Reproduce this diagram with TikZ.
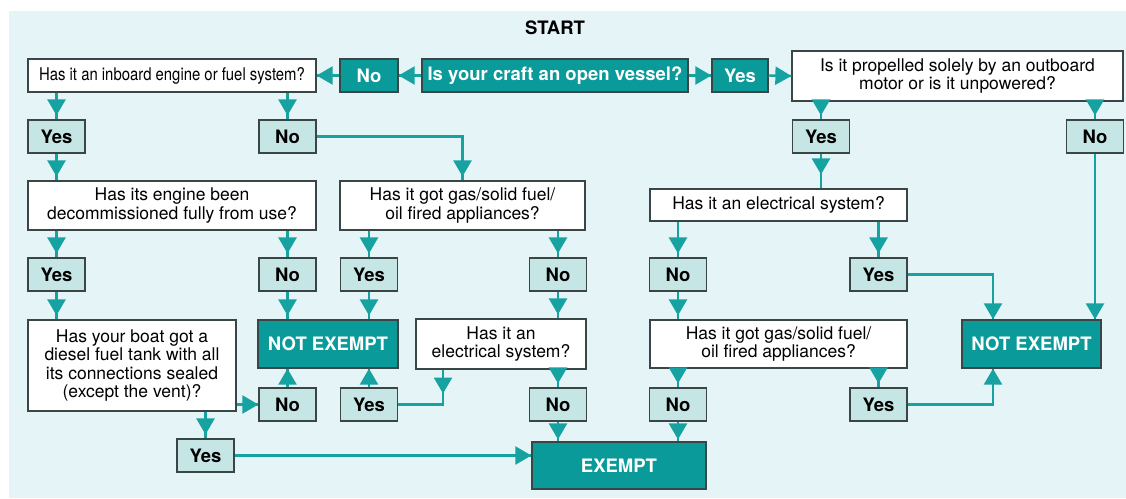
\documentclass[tikz,border=0pt]{standalone}
\usepackage{fontspec}
\setmainfont{TeX Gyre Heros}
\usepackage{xcolor}
\usepackage{graphicx}
\usetikzlibrary{arrows.meta,calc,decorations.markings,positioning}
\definecolor{bgcol}{HTML}{E5F4F6}
\definecolor{darkteal}{HTML}{0B9A9A}
\definecolor{paleteal}{HTML}{C6E5E5}
\definecolor{lineteal}{HTML}{17A2A2}
\definecolor{boxline}{HTML}{3A4545}
\newcommand{\qfont}{\fontsize{17.5}{18.6}\selectfont}
\newcommand{\afont}{\fontsize{18.5}{20}\selectfont\bfseries}
\tikzset{%
	question/.style = {draw=boxline, fill=white, line width=1.1pt, inner sep=0pt, font=\qfont, align=center},
	answer/.style   = {draw=boxline, fill=paleteal, line width=1.1pt, inner sep=0pt, font=\afont, minimum width=57pt, minimum height=33pt},
	verdict/.style  = {draw=boxline, fill=darkteal, line width=1.1pt, inner sep=0pt, font=\afont, text=white},
	arrow/.style    = {color=lineteal, line width=2.4pt, postaction={decorate},
		decoration={markings, mark=at position #1 with {\arrow{Triangle[width=18pt,length=16pt]}}}},
	arrow/.default  = -4pt,
}

\begin{document}
\begin{tikzpicture}[x=1pt,y=-1pt]
	\useasboundingbox (0,0) rectangle (1126,498);
	\fill[bgcol] (9,11) rectangle (1126,498);
	
	\node[font=\afont] (start) at (555,28) {START};
	
	% first row
	\node[verdict, minimum width=266pt, minimum height=33pt] (open) at (555,75.5) {Is your craft an open vessel?};
	\node[verdict, minimum width=58pt, minimum height=33pt] (no1) at (369,75.5) {No};
	\node[verdict, minimum width=56pt, minimum height=33pt] (yes1) at (740,75.5) {Yes};
	\node[question, minimum width=288pt, minimum height=33pt] (inboard) at (172,75.5) {\scalebox{0.85}[1]{Has it an inboard engine or fuel system?}};
	\node[question, minimum width=331pt, minimum height=50pt] (outboard) at (957.5,76) {Is it propelled solely by an outboard\\motor or is it unpowered?};
	
	\node[answer] (y2a) at (56.5,136.5) {Yes};
	\node[answer] (n2a) at (287.5,136.5) {No};
	\node[answer] (y2b) at (821,136.5) {Yes};
	\node[answer] (n2b) at (1095,136.5) {No};
	
	\node[question, minimum width=288pt, minimum height=49pt] (decom) at (172,205.5) {Has its engine been\\decommissioned fully from use?};
	\node[question, minimum width=245pt, minimum height=49pt] (gas1) at (462.5,205.5) {Has it got gas/solid fuel/\\oil fired appliances?};
	\node[question, minimum width=257pt, minimum height=32pt] (elec1) at (778.5,205) {Has it an electrical system?};
	
	\node[answer] (y4a) at (56.5,274.5) {Yes};
	\node[answer] (n4a) at (287.5,274.5) {No};
	\node[answer] (y4b) at (369,274.5) {Yes};
	\node[answer] (n4b) at (558,274.5) {No};
	\node[answer] (n4c) at (678,274.5) {No};
	\node[answer] (y4c) at (878.5,274.5) {Yes};
	
	\node[question, minimum width=208pt, minimum height=91pt] (diesel) at (132,365.5) {Has your boat got a\\diesel fuel tank with all\\its connections sealed\\(except the vent)?};
	\node[verdict, minimum width=140pt, minimum height=48pt] (notex1) at (328,344) {NOT EXEMPT};
	\node[question, minimum width=170pt, minimum height=50pt] (elec2) at (501,344) {Has it an\\electrical system?};
	\node[question, minimum width=257pt, minimum height=48pt] (gas2) at (778.5,344) {Has it got gas/solid fuel/\\oil fired appliances?};
	\node[verdict, minimum width=139pt, minimum height=48pt] (notex2) at (1031.5,344) {NOT EXEMPT};
	
	\node[answer] (n6a) at (287.5,404.5) {No};
	\node[answer] (y6a) at (369,404.5) {Yes};
	\node[answer] (n6b) at (558,404.5) {No};
	\node[answer] (n6c) at (678,404.5) {No};
	\node[answer] (y6b) at (878.5,404.5) {Yes};
	
	\node[answer] (y7) at (205.5,455.5) {Yes};
	\node[verdict, minimum width=174pt, minimum height=47pt] (exempt) at (619,465.5) {EXEMPT};
	
	% connectors
	\draw[arrow=-0.1pt] (open.west) -- (no1.east);
	\draw[arrow=-0.1pt] (no1.west) -- (inboard.east);
	\draw[arrow=-0.1pt] (open.east) -- (yes1.west);
	\draw[arrow=-0.1pt] (yes1.east) -- (outboard.west);
	
	\draw[arrow] (y2a.north |- inboard.south) -- (y2a.north);
	\draw[arrow] (n2a.north |- inboard.south) -- (n2a.north);
	\draw[arrow] (y2b.north |- outboard.south) -- (y2b.north);
	\draw[arrow] (n2b.north |- outboard.south) -- (n2b.north);
	
	\draw[arrow] (y2a.south) -- (y2a.south |- decom.north);
	\draw[arrow] (n2a.east) -| (gas1.north);
	\draw[arrow=-14pt] (y2b.south) -- (y2b.south |- elec1.north);
	\draw[arrow=-0.1pt] (n2b.south) -- (n2b.south |- notex2.north);
	
	\draw[arrow] (y4a.north |- decom.south) -- (y4a.north);
	\draw[arrow] (n4a.north |- decom.south) -- (n4a.north);
	\draw[arrow] (y4b.north |- gas1.south) -- (y4b.north);
	\draw[arrow] (n4b.north |- gas1.south) -- (n4b.north);
	\draw[arrow] (n4c.north |- elec1.south) -- (n4c.north);
	\draw[arrow] (y4c.north |- elec1.south) -- (y4c.north);
	
	\draw[arrow] (y4a.south) -- (y4a.south |- diesel.north);
	\draw[arrow] (n4a.south) -- (n4a.south |- notex1.north);
	\draw[arrow] (y4b.south) -- (y4b.south |- notex1.north);
	\draw[arrow] (n4b.south) -- (n4b.south |- elec2.north);
	\draw[arrow] (n4c.south) -- (n4c.south |- gas2.north);
	\draw[arrow=-0.1pt] (y4c.east) -| ([xshift=-38.5pt]notex2.north);
	
	\draw[arrow=-0.1pt] (diesel.east |- n6a) -- (n6a.west);
	\draw[arrow=-0.1pt] (n6a.north) -- (n6a.north |- notex1.south);
	\draw[arrow=-0.1pt] (y6a.north) -- (y6a.north |- notex1.south);
	\draw[arrow=24pt] ([xshift=-58pt]elec2.south) |- (y6a.east);
	\draw[arrow] (n6b.north |- elec2.south) -- (n6b.north);
	\draw[arrow] (n6c.north |- gas2.south) -- (n6c.north);
	\draw[arrow] (y6b.north |- gas2.south) -- (y6b.north);
	\draw[arrow=-0.1pt] (y6b.east) -| ([xshift=-38.5pt]notex2.south);
	
	\draw[arrow=-2pt] (n6b.south) -- (n6b.south |- exempt.north);
	\draw[arrow=-2pt] (n6c.south) -- (n6c.south |- exempt.north);
	\draw[arrow] (y7.north |- diesel.south) -- (y7.north);
	\draw[arrow=-0.1pt] (y7.east) -- (y7.east -| exempt.west);
\end{tikzpicture}
\end{document}
